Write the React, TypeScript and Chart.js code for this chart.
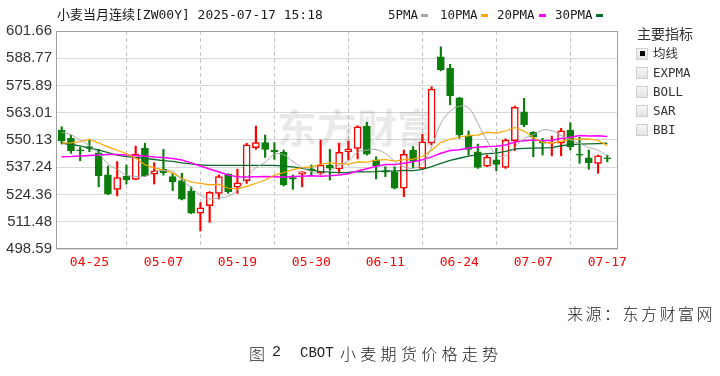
import React, { useEffect, useRef } from "react";
import { Chart, registerables } from "chart.js";

Chart.register(...registerables);

// ---- data ----
const opens = [554.85, 550.93, 545.5, 547.0, 544.1, 533.6, 526.8, 533.1, 531.5, 546.2,
  534.0, 536.3, 532.8, 530.9, 526.0, 515.5, 519.1, 524.9, 534.0, 527.8,
  530.9, 546.5, 548.9, 545.4, 544.3, 532.3, 534.0, 536.5, 534.7, 538.3,
  536.4, 544.6, 546.2, 556.7, 540.7, 535.5, 534.9, 527.3, 545.4, 536.7,
  548.6, 589.5, 584.0, 570.1, 552.0, 544.5, 537.8, 540.7, 537.2, 549.8,
  563.5, 553.7, 549.3, 548.6, 548.6, 554.85, 543.5, 541.7, 539.1, 541.7];
const highs = [556.4, 552.5, 546.7, 550.0, 545.7, 537.8, 539.9, 538.3, 547.3, 548.6,
  539.4, 545.7, 534.4, 534.4, 528.0, 520.5, 525.7, 533.6, 534.2, 536.3,
  548.6, 556.7, 552.5, 548.9, 545.4, 533.6, 535.2, 538.3, 550.1, 545.7,
  548.6, 549.7, 556.9, 558.5, 542.2, 537.5, 537.5, 545.4, 547.0, 552.8,
  575.3, 594.2, 585.9, 570.3, 554.4, 548.2, 543.0, 546.2, 550.7, 566.2,
  569.8, 554.1, 550.9, 552.0, 555.6, 558.3, 551.4, 545.4, 543.0, 543.0];
const lows = [548.2, 543.8, 540.3, 544.6, 528.0, 524.3, 523.7, 529.3, 531.4, 532.8,
  529.3, 533.5, 526.2, 521.8, 515.3, 507.1, 511.2, 522.2, 524.9, 524.9,
  529.6, 545.7, 541.9, 541.0, 528.4, 526.8, 528.0, 533.2, 533.6, 531.2,
  534.4, 540.7, 541.2, 543.0, 531.7, 532.8, 527.0, 523.3, 537.0, 536.5,
  547.8, 582.8, 566.7, 550.9, 543.0, 536.7, 537.5, 535.6, 536.7, 545.1,
  556.4, 542.2, 543.0, 542.6, 542.6, 545.4, 539.1, 536.3, 534.4, 539.8];
const closes = [549.8, 545.07, 545.0, 546.2, 533.1, 524.6, 532.3, 531.2, 543.5, 533.1,
  535.5, 534.7, 530.3, 522.1, 515.5, 518.1, 525.4, 532.8, 525.7, 529.9,
  547.8, 548.9, 545.7, 544.5, 528.9, 531.6, 535.1, 535.8, 538.3, 536.8,
  544.3, 545.9, 556.4, 543.4, 538.0, 534.9, 527.3, 543.4, 540.2, 549.3,
  574.2, 583.2, 571.1, 552.5, 545.7, 537.2, 542.0, 538.6, 550.1, 565.6,
  557.2, 551.5, 548.6, 549.2, 554.5, 547.0, 542.9, 539.4, 542.6, 541.3];

const ma5 = [553.8, 552.6, 550.0, 547.5, 543.83, 538.79, 536.24, 533.48, 532.94, 532.94,
  535.12, 535.6, 535.42, 531.14, 527.62, 524.14, 522.28, 522.78, 523.5, 526.38,
  532.32, 537.02, 539.6, 543.36, 543.16, 539.92, 537.16, 535.18, 533.94, 535.52,
  538.06, 540.22, 544.34, 545.36, 545.6, 543.72, 540.0, 537.4, 536.76, 539.02,
  546.88, 558.06, 563.6, 566.06, 565.34, 557.94, 549.7, 543.2, 542.72, 546.7,
  550.7, 552.7, 554.7, 554.52, 552.26, 550.26, 548.44, 546.6, 545.28, 542.64];
const ma10 = [548.6, 548.8, 549.4, 550.4, 548.7, 546.9, 545.3, 543.6, 541.5, 538.39,
  536.96, 535.92, 534.45, 532.04, 530.28, 529.63, 528.94, 529.1, 527.32, 527.0,
  528.23, 529.65, 531.19, 533.43, 534.77, 536.12, 537.09, 537.39, 538.65, 539.34,
  538.99, 538.69, 539.76, 539.65, 540.56, 540.89, 540.11, 540.87, 541.06, 542.31,
  545.3, 549.03, 550.5, 551.41, 552.18, 552.41, 553.88, 553.4, 554.39, 556.02,
  554.32, 551.2, 548.95, 548.62, 549.5, 550.48, 550.57, 550.65, 549.9, 547.47];
const ma20 = [542.2, 542.3, 542.6, 542.8, 543.0, 543.3, 543.3, 543.0, 542.8, 542.6,
  542.1, 541.9, 541.4, 540.7, 539.3, 537.8, 536.4, 535.0, 533.6, 532.69,
  532.59, 532.79, 532.82, 532.74, 532.53, 532.88, 533.02, 533.25, 532.99, 533.17,
  533.61, 534.17, 535.48, 536.54, 537.67, 538.51, 538.6, 539.13, 539.86, 540.83,
  542.15, 543.86, 545.13, 545.53, 546.37, 546.65, 547.0, 547.14, 547.73, 549.17,
  549.81, 550.12, 549.73, 550.02, 550.84, 551.45, 552.23, 552.03, 552.15, 551.75];
const ma30 = [548.7, 548.0, 547.3, 546.3, 545.4, 544.2, 543.0, 542.3, 541.9, 541.4,
  540.9, 540.4, 540.0, 539.3, 538.8, 538.3, 538.1, 538.1, 538.1, 538.1,
  538.1, 538.1, 538.1, 538.1, 537.8, 537.4, 536.7, 535.9, 535.2, 534.91,
  534.73, 534.75, 535.13, 535.04, 535.2, 535.55, 535.38, 535.79, 535.68, 536.22,
  537.51, 539.12, 540.48, 541.5, 542.5, 543.14, 543.69, 543.89, 544.7, 545.89,
  546.2, 546.31, 546.4, 546.56, 547.41, 547.93, 548.19, 548.31, 548.45, 548.6];

const xTickIdx = [3, 11, 19, 27, 35, 43, 51, 59];
const xTickLabels = ["04-25", "05-07", "05-19", "05-30", "06-11", "06-24", "07-07", "07-17"];
const yTickLabels = ["601.66", "588.77", "575.89", "563.01", "550.13", "537.24", "524.36", "511.48", "498.59"];

const legendItems = [
  { label: "5PMA", color: "#a8a8a8" },
  { label: "10PMA", color: "#ffa500" },
  { label: "20PMA", color: "#ff00ff" },
  { label: "30PMA", color: "#0b6b2b" },
];
const indicatorItems = ["均线", "EXPMA", "BOLL", "SAR", "BBI"];

const UP = "#ff0000";
const DOWN = "#0a7d0a";
const MONO = '"DejaVu Sans Mono", "Noto Sans CJK SC", monospace';

const framePlugin = {
  id: "frame",
  beforeDatasetsDraw(chart: any) {
    const { ctx, chartArea: a } = chart;
    ctx.save();
    ctx.fillStyle = "rgba(0,0,0,0.085)";
    ctx.font = 'bold 40px "Noto Sans CJK SC"';
    ctx.textBaseline = "middle";
    ctx.fillText("东方财富", a.left + 221, a.top + 97);
    ctx.restore();
  },
  afterDraw(chart: any) {
    const { ctx, chartArea: a } = chart;
    ctx.save();
    ctx.strokeStyle = "#a0a0a0";
    ctx.lineWidth = 1;
    ctx.strokeRect(a.left + 0.5, a.top + 0.5, a.right - a.left - 1, a.bottom - a.top - 1);
    ctx.restore();
  },
};

export default function App() {
  const ref = useRef<HTMLCanvasElement | null>(null);

  useEffect(() => {
    const canvas = ref.current;
    if (!canvas) return;
    const idx = closes.map((_, i) => i);
    const up = (i: number) => closes[i] >= opens[i];
    const line = (data: number[], color: string, width: number, tension: number) => ({
      type: "line" as const,
      data: idx.map((i) => ({ x: i, y: data[i] })),
      borderColor: color,
      borderWidth: width,
      pointRadius: 0,
      tension,
      fill: false,
      order: 0,
    });
    const chart = new Chart(canvas, {
      type: "bar",
      data: {
        datasets: [
          {
            type: "bar",
            data: idx.map((i) => ({ x: i, y: [opens[i], closes[i]] })),
            backgroundColor: idx.map((i) => (up(i) ? "#ffffff" : DOWN)),
            borderColor: idx.map((i) => (up(i) ? UP : DOWN)),
            borderWidth: 1.5,
            borderSkipped: false,
            barThickness: 7,
            grouped: false,
            order: 1,
          } as any,
          {
            type: "bar",
            data: idx.map((i) => ({ x: i, y: [lows[i], highs[i]] })),
            backgroundColor: idx.map((i) => (up(i) ? UP : DOWN)),
            borderWidth: 0,
            barThickness: 1.5,
            grouped: false,
            order: 2,
          } as any,
          line(ma5, legendItems[0].color, 1, 0.4),
          line(ma10, legendItems[1].color, 1.2, 0),
          line(ma20, legendItems[2].color, 1.5, 0),
          line(ma30, legendItems[3].color, 1.3, 0),
        ],
      },
      options: {
        responsive: false,
        animation: false,
        devicePixelRatio: 1,
        layout: { padding: { left: 0, top: 31, right: 102, bottom: 97 } },
        plugins: { legend: { display: false }, tooltip: { enabled: false } },
        scales: {
          x: {
            type: "linear",
            min: -0.616,
            max: 60.157,
            offset: false,
            afterBuildTicks: (s: any) => {
              s.ticks = xTickIdx.map((v) => ({ value: v }));
            },
            afterFit: (s: any) => {
              s.height = 30;
            },
            ticks: {
              autoSkip: false,
              maxRotation: 0,
              color: "#ff0000",
              font: { family: MONO, size: 13 },
              padding: 6,
              callback: (_v: any, i: number) => xTickLabels[i],
            },
            grid: { color: "#c4c4c4", drawTicks: false, lineWidth: 1 },
            border: { display: false, dash: [4, 3] },
          },
          y: {
            type: "linear",
            min: 498.59,
            max: 601.66,
            afterBuildTicks: (s: any) => {
              s.ticks = yTickLabels.map((l) => ({ value: parseFloat(l) }));
            },
            afterFit: (s: any) => {
              s.width = 56;
            },
            ticks: {
              color: "#333333",
              font: { family: '"Liberation Sans", Arial, sans-serif', size: 15 },
              padding: 4,
              callback: (_v: any, i: number) => yTickLabels[i],
            },
            grid: { color: "#d8d8d8", drawTicks: false, lineWidth: 1 },
            border: { display: false },
          },
        },
      } as any,
      plugins: [framePlugin],
    });
    return () => chart.destroy();
  }, []);

  const legendPos = [388, 440, 497, 555];
  const markerPos = [421, 481, 539, 596];

  return (
    <div style={{ position: "absolute", left: 0, top: 0, width: 720, height: 376, background: "#ffffff", overflow: "hidden" }}>
      <canvas ref={ref} width={720} height={376} style={{ position: "absolute", left: 0, top: 0, width: 720, height: 376 }} />
      <div style={{ position: "absolute", left: 57, top: 7, font: `13px ${MONO}`, lineHeight: "16px", color: "#1a1a1a", whiteSpace: "pre" }}>
        小麦当月连续[ZW00Y] 2025-07-17 15:18
      </div>
      {legendItems.map((it, k) => (
        <React.Fragment key={it.label}>
          <div style={{ position: "absolute", left: legendPos[k], top: 7, font: `12.5px ${MONO}`, lineHeight: "16px", color: "#1a1a1a", whiteSpace: "pre" }}>
            {it.label}
          </div>
          <div style={{ position: "absolute", left: markerPos[k], top: 14, width: 7, height: 3, background: it.color }} />
        </React.Fragment>
      ))}
      <div style={{ position: "absolute", left: 637, top: 24, font: '14px "Noto Sans CJK SC"', lineHeight: "18px", color: "#333" }}>主要指标</div>
      {indicatorItems.map((t, k) => {
        const cy = 53.5 + k * 19;
        return (
          <React.Fragment key={t}>
            <div style={{ position: "absolute", left: 636, top: cy - 6, width: 10, height: 10, border: "1px solid #cfcfcf", background: "linear-gradient(#f6f6f6, #e4e4e4)" }}>
              {k === 0 ? <div style={{ position: "absolute", left: 2.5, top: 2.5, width: 5, height: 5, background: "#000" }} /> : null}
            </div>
            <div style={{ position: "absolute", left: 653, top: cy - 8, font: `12.5px ${MONO}`, lineHeight: "16px", color: "#333", whiteSpace: "pre" }}>{t}</div>
          </React.Fragment>
        );
      })}
      <div style={{ position: "absolute", right: 5, top: 302, font: '16px "Noto Sans CJK SC"', fontWeight: 300, letterSpacing: "2.5px", lineHeight: "22px", color: "#222", whiteSpace: "pre" }}>
        来源：东方财富网
      </div>
      <div style={{ position: "absolute", left: 249, top: 342, font: '16px "Noto Sans CJK SC"', fontWeight: 300, lineHeight: "22px", color: "#222", whiteSpace: "pre" }}>图</div>
      <div style={{ position: "absolute", left: 272, top: 342, font: '15px "Liberation Mono", monospace', lineHeight: "22px", color: "#222" }}>2</div>
      <div style={{ position: "absolute", left: 300, top: 342, font: '14px "Liberation Mono", monospace', lineHeight: "22px", color: "#222" }}>CBOT</div>
      <div style={{ position: "absolute", left: 340, top: 342, font: '16px "Noto Sans CJK SC"', fontWeight: 300, letterSpacing: "4.3px", lineHeight: "22px", color: "#222", whiteSpace: "pre" }}>
        小麦期货价格走势
      </div>
    </div>
  );
}
